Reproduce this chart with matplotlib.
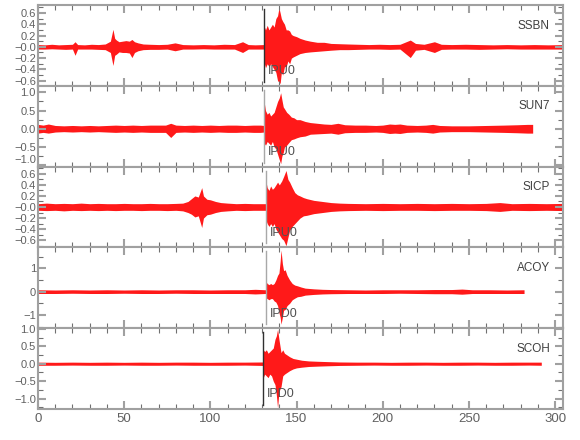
import matplotlib
matplotlib.use('Agg')
import matplotlib.pyplot as plt
import numpy as np

plt.rcParams['font.family'] = ['Liberation Sans', 'DejaVu Sans']

# station names, pick labels, pick times (s)
stations = ['SSBN', 'SUN7', 'SICP', 'ACOY', 'SCOH']
pick_lbl = ['IPU0', 'IPU0', 'IPU0', 'IPD0', 'IPD0']
pick_t = [131.3, 131.3, 132.3, 132.1, 130.6]

# envelope of each trace: (time s, upper, lower)
ssbn = [(0, .04, -.04), (4, .035, -.04), (8, .045, -.035), (12, .035, -.04), (16, .04, -.045),
        (20, .045, -.04), (21.5, .09, -.15), (23, .04, -.04), (27, .035, -.04), (31, .045, -.04),
        (35, .04, -.045), (39, .05, -.05), (42, .1, -.1), (43.5, .31, -.33), (44.5, .15, -.15),
        (45.5, .12, -.13), (47, .09, -.09), (49, .1, -.1), (51, .11, -.1), (53, .1, -.11),
        (54.5, .13, -.19), (56, .09, -.1), (58, .07, -.07), (61, .05, -.05), (65, .045, -.045),
        (70, .04, -.045), (75, .045, -.04), (79.5, .07, -.07), (84, .04, -.04), (90, .035, -.04),
        (96, .04, -.035), (102, .035, -.04), (108, .045, -.04), (114, .04, -.04), (118.7, .09, -.1),
        (122, .04, -.04), (126, .035, -.04), (131.2, .04, -.04), (131.4, .35, -.3), (132, .3, -.37),
        (133, .38, -.3), (134, .3, -.35), (135, .35, -.3), (136, .4, -.35), (137, .35, -.4),
        (138, .5, -.45), (139, .55, -.6), (139.8, .69, -.62), (140.5, .6, -.65), (141.2, .5, -.45),
        (142, .45, -.5), (143, .4, -.35), (144, .3, -.35), (145, .3, -.25), (146, .28, -.3),
        (147, .22, -.2), (148, .2, -.18), (150, .18, -.15), (152, .15, -.12), (155, .12, -.1),
        (158, .1, -.09), (162, .08, -.08), (166, .08, -.07), (170, .06, -.06), (175, .055, -.05),
        (180, .05, -.05), (186, .045, -.045), (192, .04, -.04), (198, .045, -.04), (204, .04, -.045),
        (210, .045, -.04), (216, .12, -.19), (219, .06, -.06), (224, .045, -.045), (230, .09, -.1),
        (234, .045, -.045), (240, .04, -.04), (248, .045, -.04), (256, .04, -.045), (264, .035, -.04),
        (272, .04, -.035), (280, .035, -.04), (288, .04, -.04), (296, .035, -.04), (305, .04, -.04)]

sun7 = [(0, .12, -.12), (3, .1, -.1), (6, .13, -.12), (10, .09, -.09), (15, .08, -.08),
        (20, .09, -.09), (25, .08, -.08), (30, .09, -.09), (35, .08, -.08), (40, .09, -.09),
        (45, .1, -.1), (50, .09, -.09), (55, .1, -.1), (60, .09, -.09), (65, .1, -.1),
        (70, .1, -.1), (74, .1, -.1), (77, .15, -.24), (80, .1, -.1), (85, .09, -.09),
        (90, .1, -.1), (95, .09, -.09), (100, .1, -.1), (105, .09, -.09), (110, .1, -.1),
        (115, .1, -.1), (120, .09, -.09), (125, .1, -.1), (129, .1, -.1), (131.2, .09, -.09),
        (131.4, .68, -.41), (132, .5, -.45), (133, .4, -.35), (134, .45, -.4), (135, .35, -.45),
        (136, .4, -.35), (137, .45, -.5), (138, .6, -.55), (139, .75, -.7), (140, .85, -.85),
        (140.8, .99, -.96), (141.5, .8, -.75), (142.3, .6, -.65), (143, .55, -.5), (144.3, .45, -.45),
        (145.5, .4, -.38), (147, .32, -.3), (148.5, .3, -.28), (150, .25, -.25), (152, .25, -.22),
        (155, .2, -.2), (158, .17, -.15), (162, .15, -.14), (166, .13, -.13), (170, .12, -.12),
        (174, .15, -.15), (178, .11, -.11), (184, .1, -.1), (190, .1, -.1), (196, .09, -.09),
        (200, .1, -.1), (204, .13, -.13), (207, .12, -.12), (210, .13, -.13), (214, .1, -.1),
        (220, .09, -.09), (225, .1, -.1), (229, .12, -.12), (233, .09, -.09), (240, .08, -.08),
        (250, .08, -.08), (260, .09, -.09), (270, .1, -.1), (278, .11, -.11), (284, .12, -.12),
        (287, .12, -.12)]

sicp = [(0, .06, -.06), (5, .07, -.065), (10, .06, -.06), (15, .065, -.07), (20, .06, -.06),
        (25, .07, -.065), (30, .06, -.06), (35, .065, -.065), (40, .06, -.06), (45, .06, -.065),
        (50, .065, -.06), (55, .06, -.06), (60, .06, -.065), (65, .065, -.06), (70, .06, -.06),
        (75, .06, -.065), (80, .065, -.06), (84, .07, -.07), (87, .1, -.1), (89, .15, -.13),
        (91, .2, -.18), (93, .18, -.16), (95, .35, -.37), (96, .2, -.2), (98, .14, -.14),
        (100, .13, -.13), (103, .1, -.1), (106, .08, -.08), (110, .07, -.07), (115, .06, -.06),
        (120, .065, -.065), (125, .06, -.06), (130, .06, -.06), (132.2, .06, -.06), (132.4, .44, -.25),
        (133, .35, -.3), (134, .3, -.35), (135, .38, -.3), (136, .32, -.35), (137, .35, -.3),
        (138, .4, -.4), (139, .45, -.45), (140, .4, -.5), (141.4, .47, -.57), (142.5, .55, -.6),
        (143.9, .66, -.7), (145, .5, -.55), (146, .45, -.42), (147.5, .35, -.35), (149, .26, -.3),
        (150.5, .22, -.25), (152, .2, -.2), (154, .17, -.16), (156, .15, -.15), (160, .12, -.12),
        (165, .1, -.1), (170, .08, -.08), (175, .07, -.07), (180, .065, -.065), (190, .06, -.06),
        (200, .065, -.065), (210, .06, -.06), (220, .065, -.06), (230, .06, -.065), (240, .065, -.06),
        (250, .06, -.06), (260, .065, -.065), (268, .08, -.08), (275, .06, -.06), (285, .065, -.065),
        (295, .06, -.06), (305, .065, -.065)]

acoy = [(0, .08, -.08), (10, .07, -.08), (20, .08, -.07), (30, .07, -.08), (40, .08, -.08),
        (50, .07, -.07), (60, .08, -.08), (70, .07, -.08), (80, .08, -.07), (90, .08, -.08),
        (100, .07, -.08), (110, .08, -.08), (120, .08, -.08), (126, .1, -.1), (132, .08, -.08),
        (132.2, .44, -.26), (133, .35, -.3), (134, .3, -.35), (135, .35, -.3), (136, .3, -.3),
        (137, .35, -.4), (138, .5, -.45), (139, .7, -.6), (139.8, .8, -.9), (140.5, 1.3, -1.1),
        (141, 1.79, -1.4), (141.8, 1.2, -1.1), (142.5, .9, -.8), (143.4, .94, -.77), (144.5, .7, -.6),
        (146, .5, -.5), (147.5, .35, -.35), (149, .28, -.28), (150.5, .25, -.22), (152.5, .2, -.2),
        (155, .15, -.15), (160, .12, -.12), (165, .1, -.1), (170, .09, -.09), (180, .08, -.08),
        (190, .07, -.08), (200, .08, -.08), (210, .08, -.07), (220, .08, -.08), (230, .09, -.09),
        (240, .09, -.09), (246, .11, -.11), (252, .08, -.08), (262, .08, -.08), (272, .07, -.08),
        (282, .08, -.08)]

scoh = [(0, .045, -.045), (10, .04, -.045), (20, .045, -.04), (30, .04, -.045), (40, .045, -.045),
        (50, .04, -.04), (60, .045, -.045), (70, .04, -.045), (80, .045, -.04), (90, .045, -.045),
        (100, .04, -.045), (110, .045, -.045), (120, .045, -.04), (130.5, .05, -.05), (130.7, .4, -.4),
        (131.5, .35, -.3), (132.5, .4, -.35), (133.5, .3, -.4), (134.5, .35, -.3), (135.5, .4, -.35),
        (136.5, .45, -.5), (137.5, .7, -.6), (138.3, .8, -.9), (139, .99, -1.27), (139.8, .7, -.8),
        (141, .32, -.66), (142, .4, -.35), (143, .3, -.3), (144.5, .25, -.25), (146, .2, -.2),
        (148, .15, -.15), (150, .13, -.12), (153, .1, -.1), (157, .08, -.08), (162, .07, -.07),
        (168, .06, -.06), (175, .05, -.05), (185, .045, -.045), (195, .045, -.04), (205, .04, -.045),
        (215, .045, -.045), (225, .045, -.04), (235, .04, -.045), (245, .045, -.045), (255, .045, -.04),
        (265, .04, -.045), (275, .045, -.045), (285, .045, -.04), (292, .045, -.045)]

traces = [ssbn, sun7, sicp, acoy, scoh]

# y limits and ticks per panel
ylims = [(-0.69, 0.74), (-1.04, 1.18), (-0.73, 0.73), (-1.57, 1.9), (-1.3, 1.02)]
yticks = [[-0.6, -0.4, -0.2, 0.0, 0.2, 0.4, 0.6],
          [-1.0, -0.5, 0.0, 0.5, 1.0],
          [-0.6, -0.4, -0.2, 0.0, 0.2, 0.4, 0.6],
          [-1, 0, 1],
          [-1.0, -0.5, 0.0, 0.5, 1.0]]
ytlabels = [['\u22120.6', '\u22120.4', '\u22120.2', '\u22120.0', '0.2', '0.4', '0.6'],
            ['\u22121.0', '\u22120.5', '0.0', '0.5', '1.0'],
            ['\u22120.6', '\u22120.4', '\u22120.2', '\u22120.0', '0.2', '0.4', '0.6'],
            ['\u22121', '0', '1'],
            ['\u22121.0', '\u22120.5', '0.0', '0.5', '1.0']]
yminor = [0.1, 0.25, 0.1, 0.5, 0.25]
pick_col = ['#303030', '#a8a8a8', '#a8a8a8', '#a8a8a8', '#303030']

fig, axes = plt.subplots(5, 1, figsize=(5.8, 4.4), dpi=100, sharex=True)
fig.subplots_adjust(left=0.0655, right=0.9707, top=0.9886, bottom=0.0705, hspace=0)

grey = '#a0a0a0'
for i, ax in enumerate(axes):
    t, up, lo = zip(*traces[i])
    ax.fill_between(t, lo, up, color='red', alpha=0.9, linewidth=0)
    ax.axvline(pick_t[i], ymin=0.05, ymax=0.95, color=pick_col[i], lw=1.0)
    ax.text(pick_t[i] + 2.2, 0.18, pick_lbl[i], transform=ax.get_xaxis_transform(),
            ha='left', va='center', fontsize=9, color='#505050')
    ax.text(0.975, 0.745, stations[i], transform=ax.transAxes,
            ha='right', va='center', fontsize=8.5, color='#404040')

    ax.set_xlim(0, 304.6)
    ax.set_ylim(*ylims[i])
    ax.set_yticks(yticks[i])
    ax.set_yticklabels(ytlabels[i])
    ax.yaxis.set_minor_locator(matplotlib.ticker.MultipleLocator(yminor[i]))
    ax.set_xticks(np.arange(0, 301, 50))
    ax.xaxis.set_minor_locator(matplotlib.ticker.MultipleLocator(10))
    ax.tick_params(which='major', direction='in', length=6, width=1.5, color=grey,
                   top=True, right=True, labelsize=8, labelcolor='#606060', pad=1.5)
    ax.tick_params(which='minor', direction='in', length=3.5, width=0.8, color='#707070',
                   top=True, right=True)
    for s in ax.spines.values():
        s.set_color(grey)
        s.set_linewidth(1.5)

# keep the crowded label at the SUN7/SICP seam clear of the one below
axes[1].get_yticklabels()[0].set_va('bottom')

axes[-1].set_xticklabels(['0', '50', '100', '150', '200', '250', '300'])
axes[-1].tick_params(axis='x', labelsize=9.5, pad=3)

fig.savefig('out.png', dpi=100)
